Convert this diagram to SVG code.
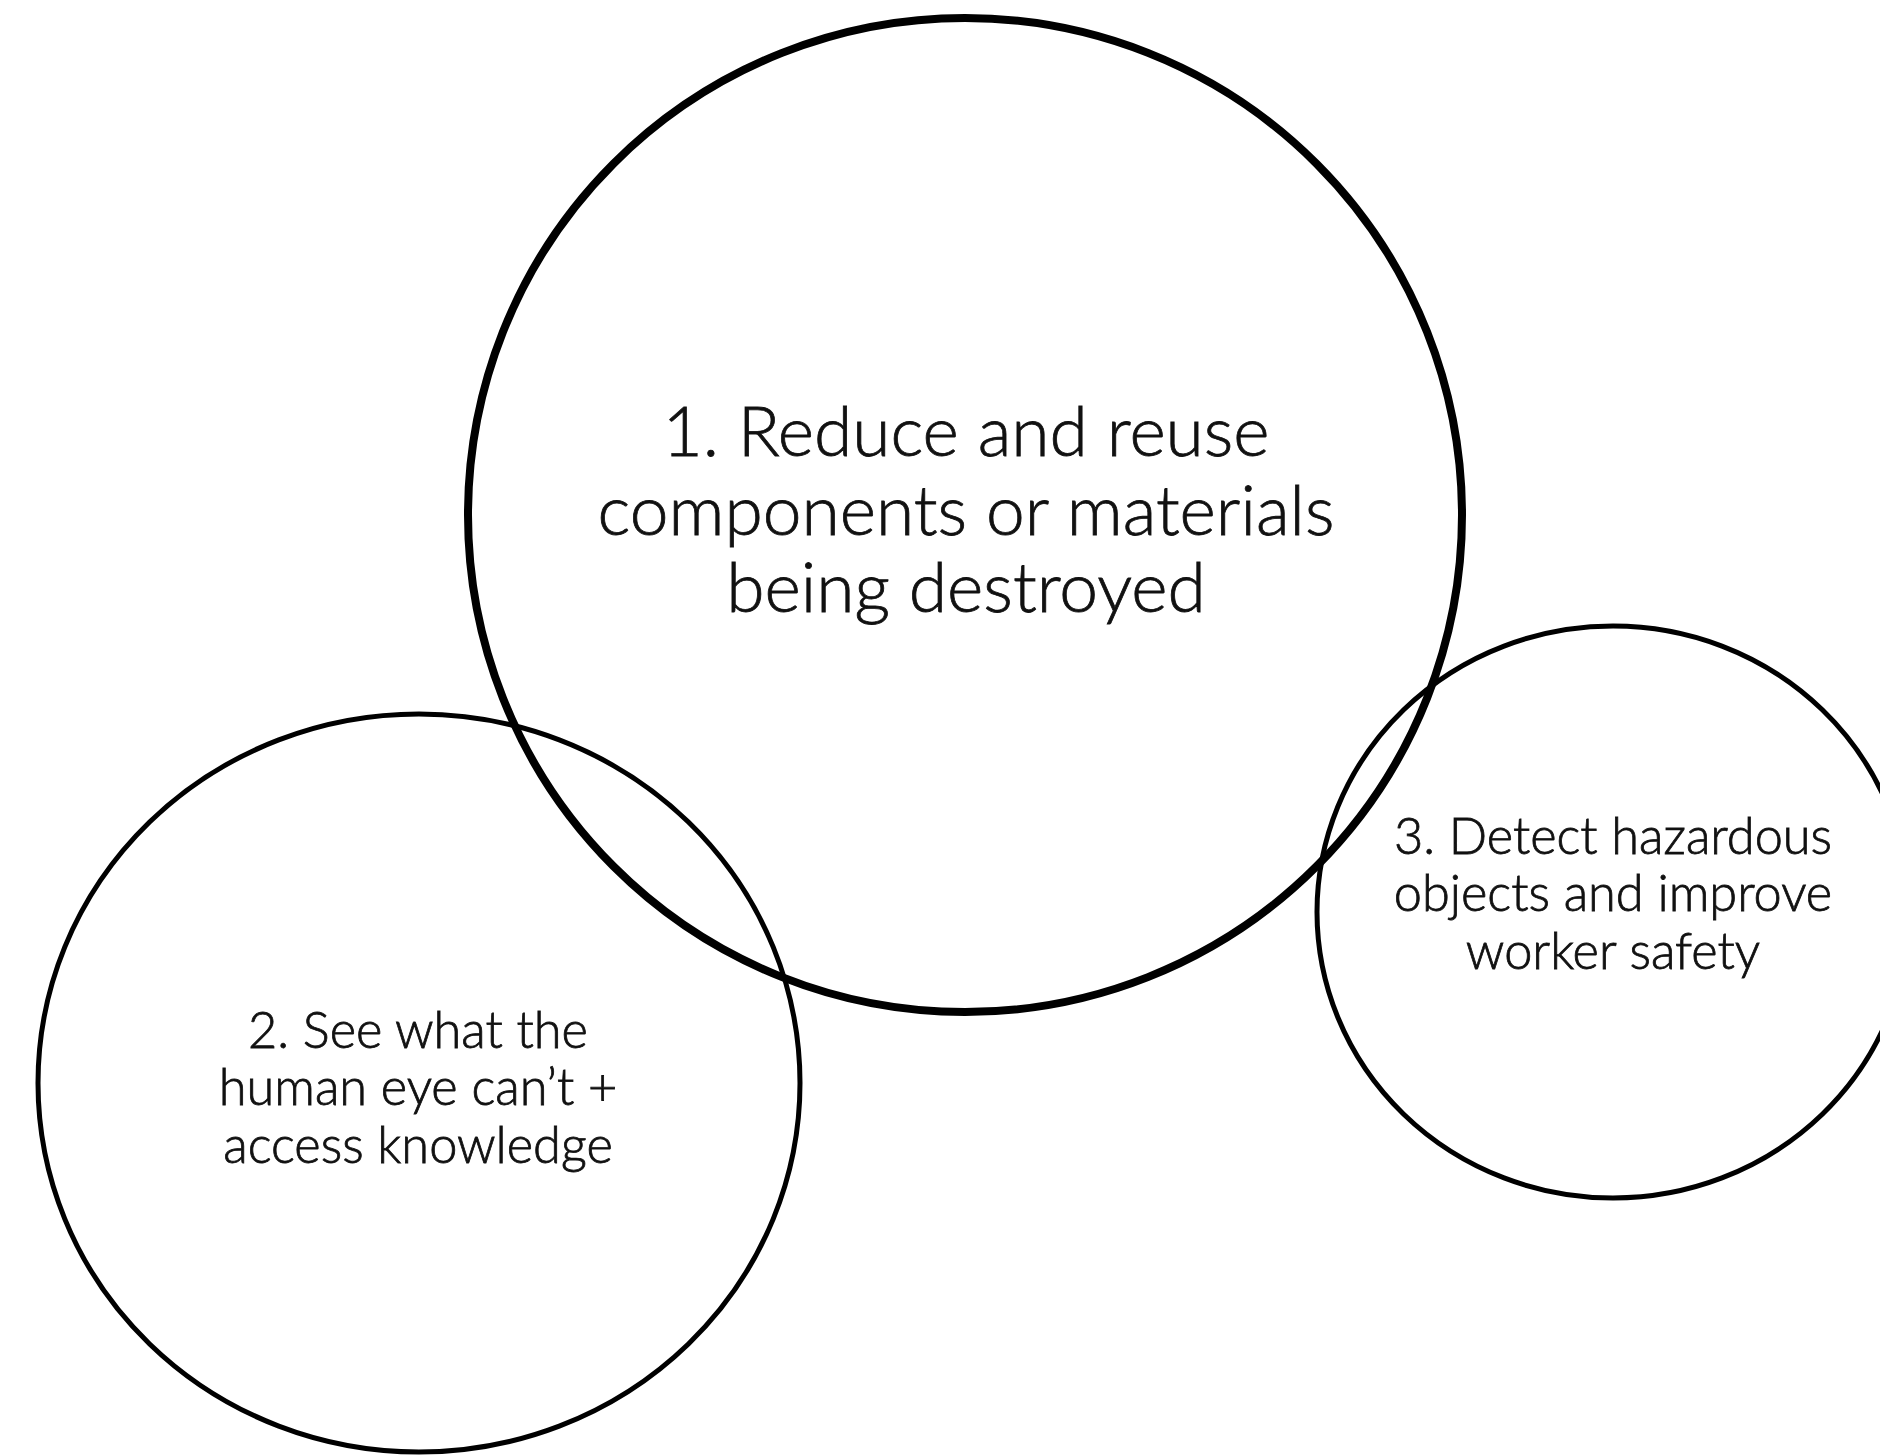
<svg xmlns="http://www.w3.org/2000/svg" width="1880" height="1456" viewBox="0 0 1880 1456">
<style>
.big{fill:none;stroke:#000;stroke-width:8}
.sm{fill:none;stroke:#000;stroke-width:5}
.t{font-family:Lato,"Open Sans","Liberation Sans",sans-serif;font-weight:300;fill:#111;stroke:#111;stroke-width:0.8;text-anchor:middle}
.t1{font-size:69.5px}
.t2{font-size:50.5px}
</style>
<rect width="1880" height="1456" fill="#fff"/>
<g id="node2">
<ellipse class="sm" cx="419" cy="1083" rx="381" ry="369"/>
<text class="t t2" x="418" y="1048">2. See what the</text>
<text class="t t2" x="418" y="1105">human eye can’t +</text>
<text class="t t2" x="418" y="1163">access knowledge</text>
</g>
<g id="node3">
<ellipse class="sm" cx="1613" cy="912" rx="296" ry="286"/>
<text class="t t2" x="1613" y="854">3. Detect hazardous</text>
<text class="t t2" x="1613" y="911">objects and improve</text>
<text class="t t2" x="1613" y="969">worker safety</text>
</g>
<g id="node1">
<circle class="big" cx="965" cy="515" r="497"/>
<text class="t t1" x="966" y="456">1. Reduce and reuse</text>
<text class="t t1" x="966" y="535">components or materials</text>
<text class="t t1" x="966" y="612">being destroyed</text>
</g>
<g id="connectors"/>
</svg>
